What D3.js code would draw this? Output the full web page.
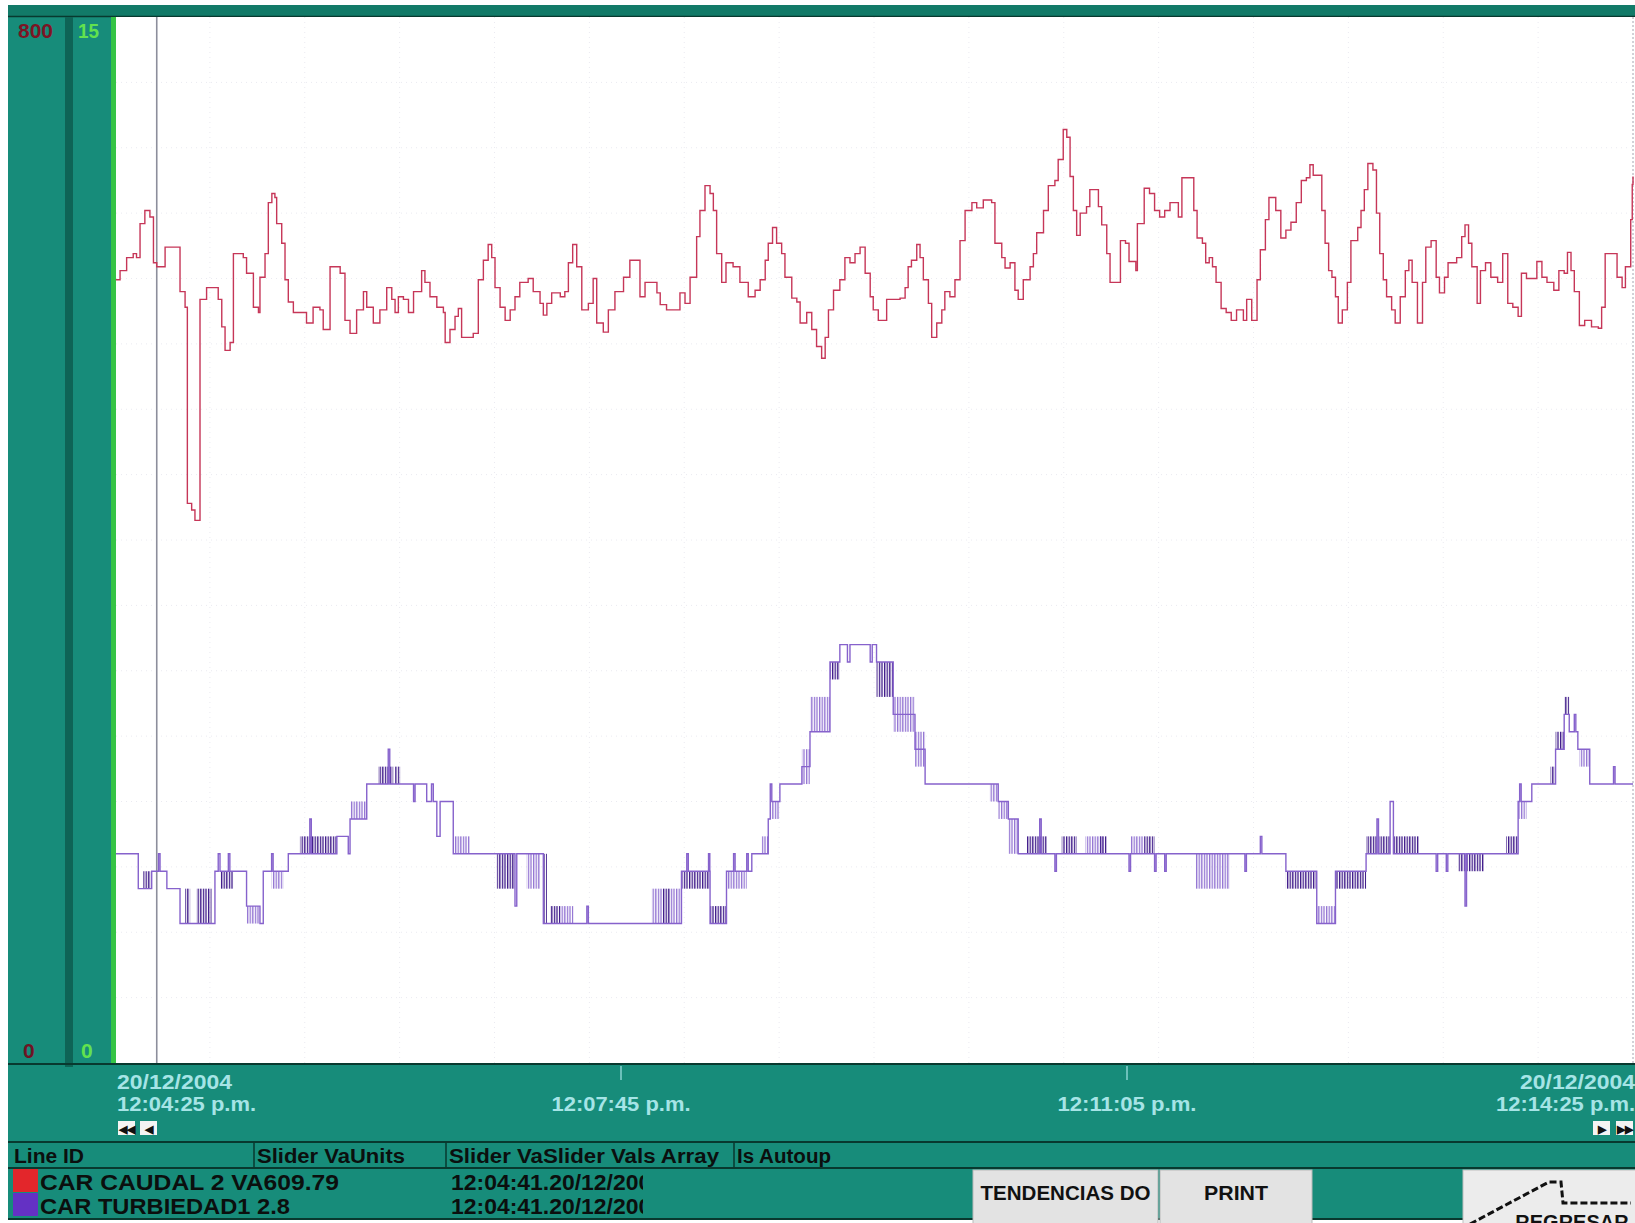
<!DOCTYPE html>
<html>
<head>
<meta charset="utf-8">
<script src="https://cdn.jsdelivr.net/npm/d3@7"></script>
<style>
  body { margin: 0; background: #fff; }
  svg { display: block; }
  text { font-family: "Liberation Sans", Arial, sans-serif; }
</style>
</head>
<body>
<svg id="chart" width="1635" height="1223"></svg>
<script>
// ---- data (time in seconds from 12:04:25 p.m.) ----
var timeTicks = [0, 200, 400, 600];
var timeLabels = ["12:04:25 p.m.", "12:07:45 p.m.", "12:11:05 p.m.", "12:14:25 p.m."];
var dateLabel = "20/12/2004";
var caudalRange = [0, 800];
var turbRange = [0, 15];
var cursorTime = 16.5;

// CAR CAUDAL 2 (red pen), [t, value]
var caudal = [[0,599],[2.0,606],[4.6,616],[7.2,619],[8.5,616],[9.9,642],[11.8,652],[13.8,647],[15.2,612],[16.5,609],[19.8,624],[25.7,590],[27.7,578],[28.6,428],[30.3,423],[31.6,415],[33.6,584],[36.2,593],[40.8,584],[42.2,563],[43.5,545],[45.5,551],[46.8,619],[50.7,616],[52.0,604],[54.7,578],[56.7,574],[57.3,601],[59.3,619],[60.6,658],[62.0,665],[63.2,662],[63.9,642],[65.9,627],[67.2,599],[68.5,582],[70.5,574],[75.7,566],[78.3,578],[81.0,576],[82.3,561],[85.0,609],[89.0,604],[90.9,568],[92.9,558],[95.5,576],[98.2,590],[99.5,578],[102.1,566],[104.7,576],[107.4,593],[109.4,584],[110.7,574],[112.0,586],[114.0,584],[116.0,574],[118.0,590],[121.2,606],[122.5,597],[124.5,586],[127.2,578],[129.8,574],[130.5,551],[132.4,561],[134.4,571],[135.7,577],[137.0,555],[141.6,558],[143.6,599],[145.6,614],[147.5,626],[148.9,616],[150.2,593],[152.2,578],[154.2,568],[156.2,576],[158.1,586],[160.0,597],[163.3,600],[165.3,590],[168.0,581],[169.3,572],[170.7,581],[172.6,589],[176.0,586],[177.8,590],[179.2,612],[180.9,626],[182.5,609],[184.5,576],[187.1,581],[189.0,600],[190.4,566],[193.0,559],[195.0,576],[197.6,590],
  [201.0,601],[203.5,614],[207.5,586],[209.5,597],[214.2,589],[215.5,580],[218.0,576],[223.3,589],[225.3,581],[227.3,601],[229.9,632],[231.2,652],[233.2,671],[235.2,665],[236.5,652],[237.8,619],[239.8,597],[241.5,612],[244.3,609],[247.0,597],[250.3,586],[253.0,591],[255.0,599],[257.0,614],[258.2,627],[259.9,639],[261.5,627],[263.5,619],[264.8,601],[267.5,585],[269.5,582],[270.8,566],[273.4,574],[275.4,561],[277.3,548],[279.3,539],[280.7,555],[282.0,576],[284.0,591],[286.5,599],[288.5,616],[290.5,612],[292.5,619],[294.5,624],[296.5,604],[298.5,586],[299.7,576],[301.7,568],[305.0,584],[310.3,585],[312.3,593],[313.5,609],[314.8,614],[316.9,626],[318.2,616],[319.5,599],[321.5,581],[322.8,555],[324.8,566],[326.8,576],[328.0,590],[330.0,586],[332.0,599],[334.0,629],[336.0,652],[338.7,658],[340.6,654],[343.2,660],[346.5,658],[347.8,627],[350.5,616],[351.8,608],[353.8,612],[355.7,591],[357.0,584],[359.0,599],[361.7,609],[363.0,619],[364.3,635],[367.0,652],[368.9,671],[371.5,675],[372.8,691],[374.8,714],[376.2,708],[377.5,678],[378.8,652],[380.1,633],[381.5,650],[384.0,655],[385.3,668],[388.7,655],[390.0,641],[392.0,619],[393.3,597],
  [397.4,629],[399.4,627],[400.8,613],[403.5,606],[404.1,642],[406.8,669],[408.9,665],[410.9,652],[412.9,647],[414.9,652],[417.0,658],[420.3,647],[421.7,677],[426.4,652],[427.7,631],[429.8,627],[431.1,612],[432.5,616],[433.8,609],[435.2,597],[437.2,577],[439.2,574],[441.2,568],[443.3,576],[446.0,568],[447.3,584],[449.3,568],[451.4,599],[452.7,622],[454.7,645],[456.1,662],[458.8,652],[460.8,631],[462.8,637],[464.8,643],[466.9,658],[468.9,675],[470.9,677],[472.3,687],[473.6,679],[477.0,652],[478.3,627],[479.7,606],[481.0,601],[482.4,586],[483.5,566],[485.1,576],[487.1,597],[488.5,629],[491.2,639],[492.5,652],[493.8,668],[495.2,688],[497.2,683],[498.6,650],[499.9,619],[501.3,599],[502.6,586],[504.6,576],[506.0,566],[508.0,586],[510.0,606],[511.4,614],[512.7,597],[514.8,566],[516.8,597],[518.1,624],[520.2,629],[522.2,601],[523.5,589],[525.5,601],[526.9,612],[530.3,616],[532.3,632],[533.6,641],[535.0,627],[536.3,609],[538.4,581],[539.7,606],[541.7,612],[543.8,601],[546.5,597],[548.5,619],[550.5,581],[552.5,578],[554.6,571],[555.9,604],[557.9,600],[562.0,613],[564.0,601],[566.0,597],[568.7,591],[570.7,606],[572.8,604],[574.1,620],[575.5,606],[576.8,590],[578.8,564],[580.9,568],[583.6,563],[586.3,562],[587.6,578],[589.0,619],[593.7,601],[595.7,593],[597.0,609],[599.1,645],[599.7,672],[600,678]];

// CAR TURBIEDAD1 (purple pen), [t, value]
var turbidez = [[0,3.0],[9.2,2.5],[14.5,2.75],[17.2,3.0],[17.8,2.75],[20.5,2.5],[25.7,2.0],[39.5,2.75],[40.8,3.0],[41.5,2.75],[44.8,3.0],[45.4,2.75],[52.0,2.25],[57.3,2.0],[58.6,2.75],[61.9,3.0],[62.5,2.75],[68.5,3.0],[77.0,3.5],[77.6,3.0],[87.7,3.25],[92.2,3.0],[92.9,3.5],[99.5,4.0],[108.0,4.5],[108.6,4.0],[118.0,3.75],[118.6,4.0],[123.2,3.75],[125.1,4.0],[125.8,3.75],[127.2,3.25],[128.5,3.75],[133.7,3.0],[158.1,2.25],[158.8,3.0],[169.3,2.0],[186.5,2.25],[187.1,2.0],
  [223.9,2.75],[226.0,3.0],[226.6,2.75],[234.6,3.0],[235.1,2.75],[235.2,2.0],[241.7,2.75],[244.5,3.0],[245.1,2.75],[249.7,3.0],[250.3,2.75],[251.7,3.0],[258.2,3.5],[259.0,4.0],[259.6,3.75],[262.8,4.0],[271.5,4.25],[274.7,4.75],[282.6,5.75],[286.5,6.0],[289.5,5.75],[290.5,6.0],[298.5,5.75],[299.3,6.0],[301.0,5.75],[307.6,5.0],[316.2,4.5],[320.2,4.0],[349.1,3.75],[353.1,3.5],[357.0,3.0],[365.5,3.5],[366.1,3.0],[371.5,2.75],[372.1,3.0],
  [400.8,2.75],[401.4,3.0],[410.9,2.75],[411.5,3.0],[414.9,2.75],[415.5,3.0],[446.6,2.75],[447.2,3.0],[452.7,3.25],[453.3,3.0],[462.8,2.75],[475.0,2.0],[482.4,2.75],[494.5,3.0],[498.8,3.5],[499.4,3.0],[504.0,3.75],[505.3,3.0],[522.2,2.75],[522.8,3.0],[526.2,2.75],[526.8,3.0],[533.6,2.25],[534.2,3.0],[554.6,3.75],[555.2,4.0],[555.8,3.75],[560.0,4.0],[569.4,4.5],[572.8,5.0],[574.8,4.75],[576.8,5.0],[577.4,4.75],[578.2,4.5],[582.9,4.0],[592.3,4.25],[592.9,4.0],[600,4.0]];

// stretches where the turbidity pen flickers between two levels: [t0, t1, low, high, dark]
var turbFlicker = [[11.2,14.5,2.5,2.75,1],[27.7,29.7,2.0,2.5,1],[32.3,38.2,2.0,2.5,1],[41.5,46.8,2.5,2.75,1],[52.0,57.3,2.0,2.25,0],[61.9,66.5,2.5,2.75,0],[73.1,87.7,3.0,3.25,1],[92.9,99.5,3.5,3.75,0],[104.1,110.0,4.0,4.25,1],[110.7,112.7,4.0,4.25,1],[133.7,140.3,3.0,3.25,0],[150.9,158.1,2.5,3.0,1],[162.7,168.0,2.5,3.0,0],[169.3,170.7,2.0,3.0,1],[172.0,176.0,2.0,2.25,1],[176.0,181.2,2.0,2.25,0],
  [212.2,216.5,2.0,2.5,0],[216.5,219.5,2.0,2.5,1],[219.5,224.0,2.0,2.5,0],[224.0,235.2,2.5,2.75,1],[235.2,241.7,2.0,2.25,1],[241.7,249.7,2.5,2.75,0],[255.6,258.2,3.0,3.25,0],[259.6,262.8,3.5,3.75,0],[271.5,274.7,4.0,4.5,0],[274.7,282.6,4.75,5.25,0],[282.6,286.5,5.5,5.75,1],[301.0,307.6,5.25,5.75,1],[307.6,316.2,4.75,5.25,0],[316.2,320.2,4.25,4.75,0],[345.8,349.1,3.75,4.0,0],[349.1,353.1,3.5,3.75,0],[353.1,357.0,3.0,3.5,0],[360.4,368.3,3.0,3.25,1],[374.2,380.1,3.0,3.25,1],[383.5,390.6,3.0,3.25,0],
  [389.3,392.0,3.0,3.25,1],[401.4,406.8,3.0,3.25,0],[406.8,410.9,3.0,3.25,1],[427.1,440.6,2.5,3.0,0],[462.8,475.0,2.5,2.75,1],[475.0,482.4,2.0,2.25,0],[482.4,494.5,2.5,2.75,1],[494.5,504.0,3.0,3.25,1],[505.3,515.4,3.0,3.25,1],[531.0,541.1,2.75,3.0,1],[549.8,554.6,3.0,3.25,1],[554.6,557.9,3.5,3.75,0],[567.4,569.4,4.0,4.25,1],[569.4,572.8,4.5,4.75,1],[572.8,574.8,5.0,5.25,1],[578.8,582.9,4.25,4.5,0]];

// legend table
var headerLabels = ["Line ID", "Slider VaUnits", "Slider VaSlider Vals Array", "Is Autoup"];
var penNames = ["CAR  CAUDAL  2  VA609.79", "CAR  TURBIEDAD1  2.8"];
var penSlider = ["12:04:41.20/12/2004", "12:04:41.20/12/2004"];
var penColors = ["#e3262b", "#6431c4"];
var buttonLabels = ["TENDENCIAS DO", "PRINT"];

// ---- drawing ----
var svg = d3.select("#chart");
var teal = "#178c7a";
var dark = "#08392f";

// frame and panels
svg.append("rect").attr("x", 8).attr("y", 5).attr("width", 1627).attr("height", 1214).attr("fill", teal);
svg.append("rect").attr("x", 8).attr("y", 5).attr("width", 1627).attr("height", 11).attr("fill", "#127a68");
svg.append("line").attr("x1", 8).attr("x2", 1635).attr("y1", 16.5).attr("y2", 16.5).attr("stroke", dark).attr("stroke-width", 1.5);
svg.append("rect").attr("x", 65).attr("y", 17).attr("width", 8).attr("height", 1050).attr("fill", "#0e6456");
svg.append("rect").attr("x", 111).attr("y", 17).attr("width", 5).attr("height", 1046).attr("fill", "#35c445");

var plot = { left: 116, top: 17, right: 1635, bottom: 1063 };
svg.append("rect").attr("x", plot.left).attr("y", plot.top)
  .attr("width", plot.right - plot.left).attr("height", plot.bottom - plot.top).attr("fill", "#fff");

var x = d3.scaleLinear().domain([0, 600]).range([115, 1633]);
var yCaudal = d3.scaleLinear().domain(caudalRange).range([plot.bottom, plot.top]);
var yTurb = d3.scaleLinear().domain(turbRange).range([plot.bottom, plot.top]);

var defs = svg.append("defs");
defs.append("clipPath").attr("id", "plotClip").append("rect")
  .attr("x", plot.left).attr("y", plot.top).attr("width", plot.right - plot.left).attr("height", plot.bottom - plot.top);

// hatch patterns used for the flickering pen
[["hatchDark", "#3b1687"], ["hatchLight", "#9273d2"]].forEach(function (p) {
  var pat = defs.append("pattern").attr("id", p[0]).attr("patternUnits", "userSpaceOnUse")
    .attr("width", 2.6).attr("height", 20);
  pat.append("rect").attr("width", 1.3).attr("height", 20).attr("fill", p[1]);
});

var g = svg.append("g").attr("clip-path", "url(#plotClip)");

// faint dotted grid: 16 divisions each way
g.selectAll("line.hgrid").data(d3.range(50, 800, 50)).enter().append("line")
  .attr("x1", plot.left).attr("x2", plot.right)
  .attr("y1", function (d) { return yCaudal(d); }).attr("y2", function (d) { return yCaudal(d); })
  .attr("stroke", "#eaeaf1").attr("stroke-dasharray", "1,4");
g.selectAll("line.vgrid").data(d3.range(37.5, 600, 37.5)).enter().append("line")
  .attr("y1", plot.top).attr("y2", plot.bottom)
  .attr("x1", function (d) { return x(d); }).attr("x2", function (d) { return x(d); })
  .attr("stroke", "#eaeaf1").attr("stroke-dasharray", "1,4");
g.append("line").attr("x1", x(600)).attr("x2", x(600)).attr("y1", plot.top).attr("y2", plot.bottom)
  .attr("stroke", "#a4a4b0").attr("stroke-dasharray", "2,2");

// slider cursor
g.append("line").attr("x1", x(cursorTime)).attr("x2", x(cursorTime)).attr("y1", plot.top).attr("y2", plot.bottom)
  .attr("stroke", "#8c8e9c").attr("stroke-width", 1.6);

// turbidity flicker blocks, then its step line
g.selectAll("rect.flick").data(turbFlicker).enter().append("rect")
  .attr("x", function (d) { return x(d[0]); })
  .attr("width", function (d) { return Math.max(1.5, x(d[1]) - x(d[0])); })
  .attr("y", function (d) { return yTurb(d[3]); })
  .attr("height", function (d) { return yTurb(d[2]) - yTurb(d[3]); })
  .attr("fill", function (d) { return d[4] ? "url(#hatchDark)" : "url(#hatchLight)"; });

var stepLine = function (yScale) {
  return d3.line().curve(d3.curveStepAfter)
    .x(function (d) { return x(d[0]); })
    .y(function (d) { return yScale(d[1]); });
};

g.append("path").datum(turbidez).attr("d", stepLine(yTurb))
  .attr("fill", "none").attr("stroke", "#8662cc").attr("stroke-width", 1.4);

g.append("path").datum(caudal).attr("d", stepLine(yCaudal))
  .attr("fill", "none").attr("stroke", "#c63658").attr("stroke-width", 1.4);

// plot bottom edge
svg.append("line").attr("x1", 8).attr("x2", 1635).attr("y1", 1064).attr("y2", 1064).attr("stroke", dark).attr("stroke-width", 2);

function label(str, px, py, o) {
  var t = svg.append("text").attr("x", px).attr("y", py)
    .attr("text-anchor", o.anchor || "start")
    .attr("font-size", o.size).attr("font-weight", o.weight || "normal")
    .attr("fill", o.fill).text(str);
  if (o.len) t.attr("textLength", o.len).attr("lengthAdjust", "spacingAndGlyphs");
  return t;
}

// pen scale labels
label(String(caudalRange[1]), 18, 38, { size: 21, weight: "bold", fill: "#7c1424", len: 35 });
label(String(turbRange[1]), 78, 38, { size: 21, weight: "bold", fill: "#62e24e", len: 21 });
label(String(caudalRange[0]), 23, 1058, { size: 21, weight: "bold", fill: "#6e1424" });
label(String(turbRange[0]), 81, 1058, { size: 21, weight: "bold", fill: "#62e24e" });

// time axis
var cyan = "#a6e4e6";
timeTicks.forEach(function (t, i) {
  var px = x(t);
  var anchor = i === 0 ? "start" : (i === timeTicks.length - 1 ? "end" : "middle");
  var lx = i === 0 ? 117 : (i === timeTicks.length - 1 ? 1635 : px);
  if (i === 0 || i === timeTicks.length - 1) {
    label(dateLabel, lx, 1089, { size: 21, weight: "bold", fill: cyan, anchor: anchor, len: 115 });
  } else {
    svg.append("line").attr("x1", px).attr("x2", px).attr("y1", 1066).attr("y2", 1080)
      .attr("stroke", cyan).attr("stroke-width", 1.2);
  }
  label(timeLabels[i], lx, 1111, { size: 21, weight: "bold", fill: cyan, anchor: anchor, len: 139 });
});

// scroll buttons
function navButton(bx, glyph) {
  svg.append("rect").attr("x", bx).attr("y", 1121).attr("width", 17).attr("height", 14).attr("fill", "#f4f4f4");
  label(glyph, bx + 8.5, 1133, { size: 11, weight: "bold", fill: "#111", anchor: "middle" });
}
navButton(118, "\u25C0\u25C0");
navButton(140, "\u25C0");
navButton(1593, "\u25B6");
navButton(1616, "\u25B6\u25B6");

// legend table
svg.append("line").attr("x1", 8).attr("x2", 1635).attr("y1", 1142).attr("y2", 1142).attr("stroke", dark).attr("stroke-width", 2);
svg.append("line").attr("x1", 8).attr("x2", 1635).attr("y1", 1168).attr("y2", 1168).attr("stroke", dark).attr("stroke-width", 2);
svg.append("line").attr("x1", 8).attr("x2", 1635).attr("y1", 1219).attr("y2", 1219).attr("stroke", dark).attr("stroke-width", 2);
var colX = [14, 257, 449, 737];
var colW = [70, 148, 270, 94];
colX.forEach(function (cx, i) {
  if (i > 0) {
    svg.append("line").attr("x1", cx - 3).attr("x2", cx - 3).attr("y1", 1142).attr("y2", 1168)
      .attr("stroke", dark).attr("stroke-width", 1.5);
  }
  label(headerLabels[i], cx, 1163, { size: 20, weight: "bold", fill: "#0b0f0e", len: colW[i] });
});

svg.append("clipPath").attr("id", "sliderClip").append("rect")
  .attr("x", 440).attr("y", 1168).attr("width", 203).attr("height", 52);

penNames.forEach(function (name, i) {
  var rowY = 1169 + i * 24;
  svg.append("rect").attr("x", 13).attr("y", rowY).attr("width", 25).attr("height", 23).attr("fill", penColors[i]);
  label(name, 40, rowY + 21, { size: 22, weight: "bold", fill: "#0b0f0e", len: i === 0 ? 299 : 250 });
  label(penSlider[i], 451, rowY + 21, { size: 22, weight: "bold", fill: "#0b0f0e", len: 213 })
    .attr("clip-path", "url(#sliderClip)");
});

// screen buttons
var btnX = [973, 1160];
var btnW = [185, 152];
var btnLen = [170, 64];
buttonLabels.forEach(function (b, i) {
  svg.append("rect").attr("x", btnX[i]).attr("y", 1170).attr("width", btnW[i]).attr("height", 60)
    .attr("fill", "#e3e3e3").attr("stroke", "#b9b9b9");
  label(b, btnX[i] + btnW[i] / 2, 1200, { size: 20, weight: "bold", fill: "#111", anchor: "middle", len: btnLen[i] });
});

// REGRESAR button with its arrow
svg.append("rect").attr("x", 1463).attr("y", 1170).attr("width", 180).attr("height", 60).attr("fill", "#ececec").attr("stroke", "#bdbdbd");
svg.append("polyline")
  .attr("points", [[1470, 1224], [1549, 1182], [1561, 1182], [1563, 1203], [1631, 1203]].join(" "))
  .attr("fill", "none").attr("stroke", "#111").attr("stroke-width", 3).attr("stroke-dasharray", "7,3");
label("REGRESAR", 1572, 1229, { size: 20, weight: "bold", fill: "#111", anchor: "middle" });
</script>
</body>
</html>
